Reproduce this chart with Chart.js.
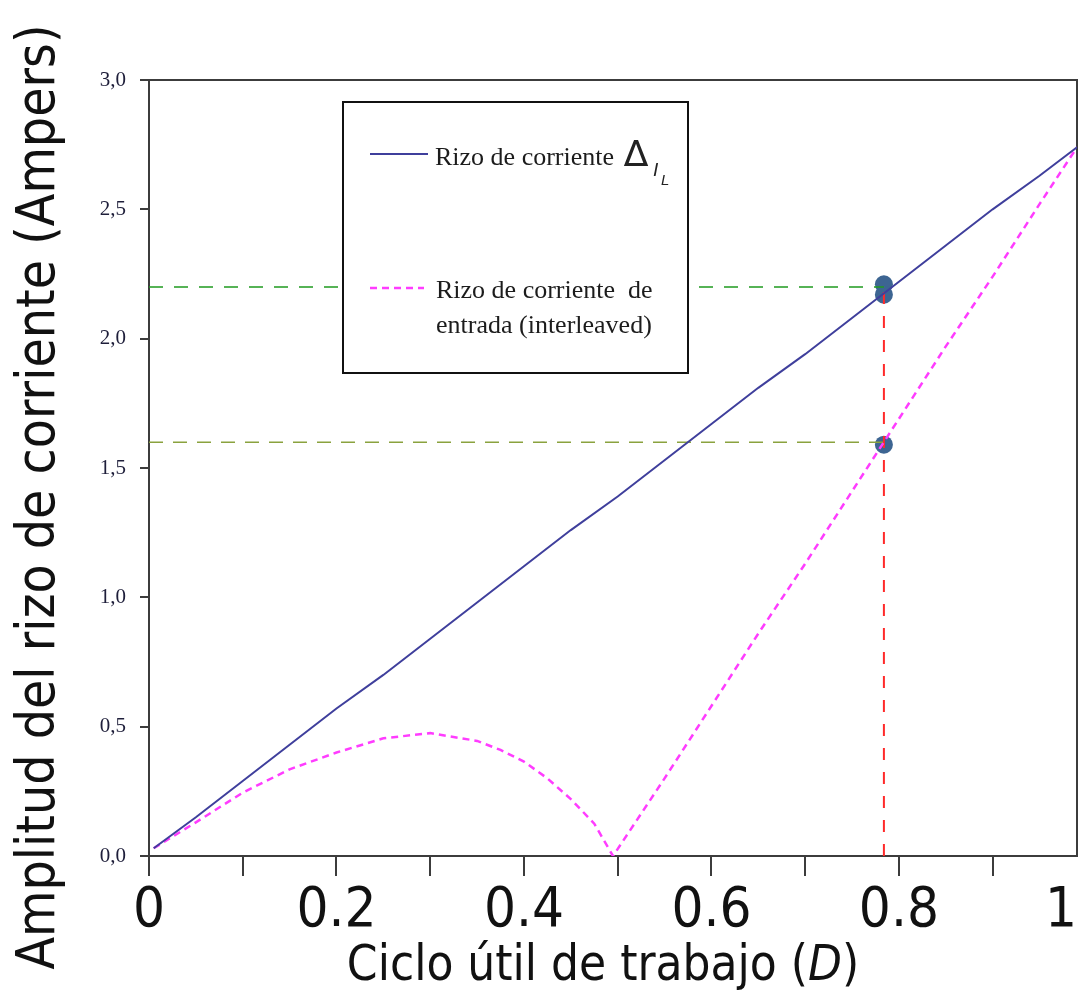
<!DOCTYPE html>
<html>
<head>
<meta charset="utf-8">
<script src="https://cdn.jsdelivr.net/npm/chart.js@4/dist/chart.umd.min.js"></script>
<style>
  html, body { margin: 0; padding: 0; background: #fff; }
</style>
</head>
<body>
<canvas id="rippleChart" width="1088" height="996"></canvas>
<script>
// Inductor current ripple vs duty cycle
const dutyCycle = [0.005, 0.05, 0.1, 0.15, 0.2, 0.25, 0.3, 0.35, 0.4, 0.45, 0.5,
                   0.55, 0.6, 0.65, 0.7, 0.75, 0.8, 0.85, 0.9, 0.95, 0.99];
const inductorRipple = [0.03, 0.15, 0.29, 0.43, 0.57, 0.70, 0.84, 0.98, 1.12, 1.26, 1.39,
                        1.53, 1.67, 1.81, 1.94, 2.08, 2.22, 2.36, 2.50, 2.63, 2.74];

// Interleaved input current ripple
const inputDuty = [0.005, 0.05, 0.1, 0.15, 0.2, 0.25, 0.3, 0.35, 0.375, 0.4, 0.425, 0.45,
                   0.475, 0.495, 0.55, 0.6, 0.65, 0.7, 0.75, 0.8, 0.85, 0.9, 0.95, 0.99];
const inputRipple = [0.03, 0.13, 0.245, 0.335, 0.40, 0.455, 0.475, 0.445, 0.41, 0.365, 0.30, 0.22,
                     0.125, 0.0, 0.30, 0.58, 0.86, 1.13, 1.41, 1.69, 1.97, 2.24, 2.52, 2.74];

// Operating point
const operatingDuty = 0.784;
const markerRipple = [2.21, 2.17, 1.59];
const guideLevels = [2.2, 1.6];

// Axis ticks
const xMax = 0.99;
const xTickValues = [0, 0.1, 0.2, 0.3, 0.4, 0.5, 0.6, 0.7, 0.8, 0.9, xMax];
const xTickLabels = ['0', '', '0.2', '', '0.4', '', '0.6', '', '0.8', '', '1  '];
const yTickValues = [0, 0.5, 1.0, 1.5, 2.0, 2.5, 3.0];

const NARROW = "'Liberation Sans Narrow', 'DejaVu Sans Condensed', 'Liberation Sans', sans-serif";
const SERIF = "'Liberation Serif', 'DejaVu Serif', serif";
const AXIS_COLOR = '#3c3c3c';

const toPoints = (xs, ys) => xs.map((x, i) => ({ x: x, y: ys[i] }));

const framePlugin = {
  id: 'frame',
  beforeDatasetsDraw(chart) {
    const { ctx, chartArea: a } = chart;
    ctx.save();
    ctx.strokeStyle = AXIS_COLOR;
    ctx.lineWidth = 2;
    ctx.beginPath();
    ctx.moveTo(a.left, a.top);
    ctx.lineTo(a.right, a.top);
    ctx.lineTo(a.right, a.bottom);
    ctx.stroke();
    ctx.restore();
  }
};

const legendBoxPlugin = {
  id: 'legendBox',
  afterDatasetsDraw(chart) {
    const ctx = chart.ctx;
    const ds = chart.data.datasets;
    ctx.save();
    ctx.fillStyle = '#fff';
    ctx.fillRect(343, 102, 345, 271);
    ctx.strokeStyle = '#111';
    ctx.lineWidth = 2;
    ctx.strokeRect(343, 102, 345, 271);

    // solid sample
    ctx.strokeStyle = ds[0].borderColor;
    ctx.lineWidth = ds[0].borderWidth;
    ctx.beginPath();
    ctx.moveTo(370, 154);
    ctx.lineTo(428, 154);
    ctx.stroke();

    // dashed sample
    ctx.strokeStyle = ds[1].borderColor;
    ctx.lineWidth = ds[1].borderWidth;
    ctx.setLineDash(ds[1].borderDash);
    ctx.beginPath();
    ctx.moveTo(370, 288);
    ctx.lineTo(424, 288);
    ctx.stroke();
    ctx.setLineDash([]);

    ctx.fillStyle = '#1c1c1c';
    ctx.textBaseline = 'alphabetic';
    ctx.font = '26px ' + SERIF;
    ctx.fillText('Rizo de corriente', 435, 165);
    ctx.fillText('Rizo de corriente  de', 436, 298);
    ctx.fillText('entrada (interleaved)', 436, 333);

    ctx.font = '36px ' + "'DejaVu Sans', sans-serif";
    ctx.fillStyle = '#222';
    ctx.fillText('\u2206', 624, 166);
    ctx.font = 'italic 19px ' + "'Liberation Sans', sans-serif";
    ctx.fillText('I', 653, 176);
    ctx.font = 'italic 15px ' + "'Liberation Sans', sans-serif";
    ctx.fillText('L', 661, 185);
    ctx.restore();
  }
};

const axisTitlePlugin = {
  id: 'axisTitles',
  afterDraw(chart) {
    const ctx = chart.ctx;
    ctx.save();
    ctx.fillStyle = '#111';
    ctx.textBaseline = 'alphabetic';

    // x title with italic D
    const parts = [
      { t: 'Ciclo \u00fatil de trabajo (', f: '49px ' + NARROW },
      { t: 'D', f: 'italic 49px ' + NARROW },
      { t: ')', f: '49px ' + NARROW }
    ];
    let total = 0;
    parts.forEach(p => { ctx.font = p.f; p.w = ctx.measureText(p.t).width; total += p.w; });
    let x = 603 - total / 2;
    parts.forEach(p => { ctx.font = p.f; ctx.fillText(p.t, x, 980); x += p.w; });

    // y title
    ctx.translate(54, 497);
    ctx.rotate(-Math.PI / 2);
    ctx.font = '53px ' + NARROW;
    ctx.textAlign = 'center';
    ctx.fillText('Amplitud del rizo de corriente (Ampers)', 0, 0);
    ctx.restore();
  }
};

new Chart(document.getElementById('rippleChart'), {
  type: 'line',
  data: {
    datasets: [
      {
        label: 'Rizo de corriente',
        data: toPoints(dutyCycle, inductorRipple),
        borderColor: '#3f3f9c',
        borderWidth: 2,
        pointRadius: 0,
        tension: 0
      },
      {
        label: 'Rizo de corriente de entrada (interleaved)',
        data: toPoints(inputDuty, inputRipple),
        borderColor: '#ff3cff',
        borderWidth: 2.5,
        borderDash: [7, 5],
        pointRadius: 0,
        tension: 0
      },
      {
        label: 'guide upper',
        data: [{ x: 0, y: guideLevels[0] }, { x: operatingDuty, y: guideLevels[0] }],
        borderColor: '#1f9a1f',
        borderWidth: 1.5,
        borderDash: [14, 11],
        pointRadius: 0
      },
      {
        label: 'guide lower',
        data: [{ x: 0, y: guideLevels[1] }, { x: operatingDuty, y: guideLevels[1] }],
        borderColor: '#8aa23e',
        borderWidth: 1.5,
        borderDash: [14, 10],
        pointRadius: 0
      },
      {
        label: 'guide vertical',
        data: [{ x: operatingDuty, y: 0 }, { x: operatingDuty, y: guideLevels[0] }],
        borderColor: '#ff2a2a',
        borderWidth: 2,
        borderDash: [12, 12],
        pointRadius: 0
      },
      {
        label: 'operating point',
        data: markerRipple.map(v => ({ x: operatingDuty, y: v })),
        showLine: false,
        pointRadius: 9,
        pointBackgroundColor: '#3d6592',
        pointBorderColor: '#3d6592',
        pointBorderWidth: 0
      }
    ]
  },
  options: {
    responsive: false,
    animation: false,
    devicePixelRatio: 1,
    layout: { padding: { top: 80, right: 11, left: 0, bottom: 0 } },
    plugins: {
      legend: { display: false },
      tooltip: { enabled: false }
    },
    scales: {
      x: {
        type: 'linear',
        min: 0,
        max: xMax,
        afterFit: s => { s.height = 140; s.paddingLeft = 0; s.paddingRight = 0; },
        afterBuildTicks: s => { s.ticks = xTickValues.map(v => ({ value: v })); },
        grid: {
          drawOnChartArea: false,
          tickLength: 20,
          lineWidth: 2,
          color: c => (c.tick && c.tick.value === xMax) ? 'rgba(0,0,0,0)' : AXIS_COLOR
        },
        border: { color: AXIS_COLOR, width: 2 },
        ticks: {
          autoSkip: false,
          maxRotation: 0,
          padding: 2,
          color: '#111',
          font: { family: NARROW, size: 56 },
          callback: (v, i) => xTickLabels[i]
        }
      },
      y: {
        min: 0,
        max: 3,
        afterFit: s => { s.width = 149; s.paddingTop = 0; s.paddingBottom = 0; },
        afterBuildTicks: s => { s.ticks = yTickValues.map(v => ({ value: v })); },
        grid: { drawOnChartArea: false, tickLength: 9, lineWidth: 2, color: AXIS_COLOR },
        border: { color: AXIS_COLOR, width: 2 },
        ticks: {
          padding: 14,
          color: '#1e1e3a',
          font: { family: SERIF, size: 21 },
          callback: v => v.toFixed(1).replace('.', ',')
        }
      }
    }
  },
  plugins: [framePlugin, legendBoxPlugin, axisTitlePlugin]
});
</script>
</body>
</html>
